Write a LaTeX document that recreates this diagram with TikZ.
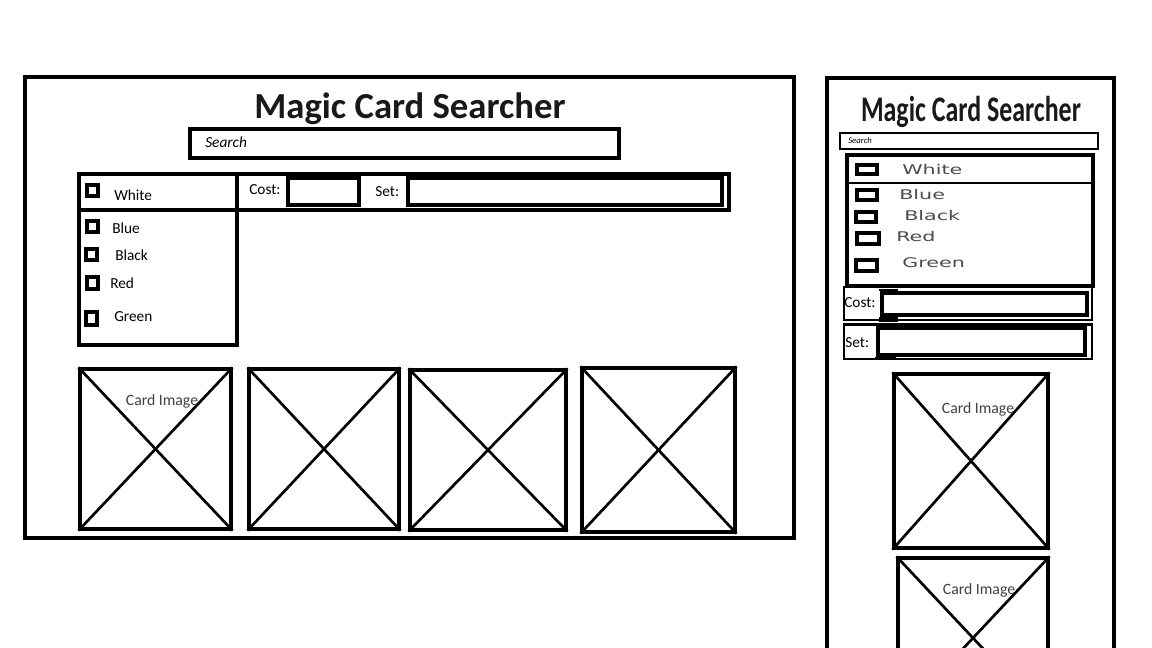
\documentclass[tikz,border=0pt]{standalone}
\usepackage{fontspec}
\setmainfont{Carlito}
\newfontfamily\widefont{DejaVu Sans}
\usetikzlibrary{fit}
\begin{document}
\begin{tikzpicture}[x=0.75pt,y=-0.75pt,
  frame/.style={draw,line width=3pt,inner sep=0pt},
  thickbox/.style={draw,line width=2.3pt,inner sep=0pt},
  rowbox/.style={draw,line width=2.2pt,inner sep=0pt},
  thinbox/.style={draw,line width=1.6pt,inner sep=0pt},
  chk/.style={draw,line width=2.6pt,inner sep=0pt},
  card/.style={draw,line width=2.3pt,inner sep=0pt},
  diag/.style={line width=2pt},
  lbl/.style={anchor=mid west,inner sep=0pt,yshift=-1.5pt,font=\fontsize{11.5pt}{13pt}\selectfont},
  wlbl/.style={anchor=mid west,inner sep=0pt,text=black!70,font=\fontsize{10pt}{12pt}\widefont},
  imgtxt/.style={inner sep=0pt,yshift=-1.5pt,text=black!75,font=\fontsize{11.8pt}{13pt}\selectfont},
]
\path[use as bounding box,clip] (0,0) rectangle (1152,648);
\fill[white] (0,0) rectangle (1152,648);

% ---------- desktop layout ----------
\node[frame,fit={(25,77)(794,538)}] (deskframe) {};
\node[inner sep=0pt,font=\fontsize{27.5pt}{30pt}\selectfont\bfseries,text=black!90] (desktitle) at (410,109) {Magic Card Searcher};
\node[thickbox,fit={(190,129)(619,158)}] (desksearch) {};
\node[anchor=mid west,inner sep=0pt,yshift=-1.5pt,font=\fontsize{11.5pt}{13pt}\selectfont\itshape] (desksearchtxt) at (205,142) {Search};

\node[thickbox,fit={(79,174)(729,210)}] (desktoprow) {};
\node[thickbox,fit={(79,174)(237,345)}] (deskcolors) {};
\node[lbl] (deskcostlbl) at (249,189) {Cost:};
\node[thickbox,fit={(288,178)(359,205)}] (deskcost) {};
\node[lbl] (desksetlbl) at (375,191) {Set:};
\node[thickbox,fit={(408,178)(722,205)}] (deskset) {};

\node[chk,fit={(87,185)(98,196)}] (dcw) {};
\node[chk,fit={(87,221)(98,232)}] (dcu) {};
\node[chk,fit={(86,249)(97,260)}] (dcb) {};
\node[chk,fit={(87,277)(98,289)}] (dcr) {};
\node[chk,fit={(86,312)(97,325)}] (dcg) {};
\node[lbl] (dlw) at (114,195) {White};
\node[lbl] (dlu) at (112,228) {Blue};
\node[lbl] (dlb) at (115,255) {Black};
\node[lbl] (dlr) at (110,283) {Red};
\node[lbl] (dlg) at (114,316) {Green};

\foreach \n/\a/\b/\c/\d in {dc1/80/369/231/529, dc2/249/369/399/529, dc3/410/370/566/530, dc4/582/368/735/532}{
  \node[card,fit={(\a,\b)(\c,\d)}] (\n) {};
  \draw[diag] (\n.north west) -- (\n.south east);
  \draw[diag] (\n.north east) -- (\n.south west);
}
\node[imgtxt] (dc1txt) at (162,399) {Card Image};

% ---------- mobile layout ----------
\node[frame,fit={(827,78)(1114,720)}] (mobframe) {};
\node[inner sep=0pt,text=black!90] (mobtitle) at (971,112) {\scalebox{0.72}[1]{\fontsize{27pt}{30pt}\selectfont\bfseries Magic Card Searcher}};
\node[thinbox,fit={(840,133)(1098,149)}] (mobsearch) {};
\node[anchor=mid west,inner sep=0pt,font=\fontsize{6.5pt}{7pt}\selectfont\itshape] (mobsearchtxt) at (848,140) {Search};

\node[thickbox,fit={(847,155)(1093,286)}] (mobcolors) {};
\draw[line width=1.6pt] (mobcolors.west |- 0,183) -- (mobcolors.east |- 0,183);
\node[chk,fit={(857,165)(877,174)}] (mcw) {};
\node[chk,fit={(857,190)(877,200)}] (mcu) {};
\node[chk,fit={(856,212)(876,222)}] (mcb) {};
\node[chk,fit={(857,233)(879,244)}] (mcr) {};
\node[chk,fit={(856,260)(877,271)}] (mcg) {};
\node[wlbl] (mlw) at (902,171) {\scalebox{1.55}[1]{White}};
\node[wlbl] (mlu) at (899,196) {\scalebox{1.55}[1]{Blue}};
\node[wlbl] (mlb) at (904,217) {\scalebox{1.55}[1]{Black}};
\node[wlbl] (mlr) at (896,238) {\scalebox{1.55}[1]{Red}};
\node[wlbl] (mlg) at (902,264) {\scalebox{1.55}[1]{Green}};

\node[rowbox,fit={(844,287)(1092,320)}] (mobcostrow) {};
\node[thickbox,fit={(882,293)(1087,315)}] (mobcost) {};
\node[lbl] (mobcostlbl) at (844,302) {Cost:};
\node[rowbox,fit={(844,324.5)(1092,359)}] (mobsetrow) {};
\node[thickbox,fit={(878,328)(1085,355)}] (mobset) {};
\node[lbl] (mobsetlbl) at (845,342) {Set:};
\fill (mobcost.south west) ++(-1,0) rectangle ++(19,5);
\fill (mobcost.north west) ++(-1,0) rectangle ++(19,-2);
\fill (mobset.south west) ++(-1,0) rectangle ++(21,3);
\fill (mobset.north west) ++(-1,0) rectangle ++(21,-2);

\foreach \n/\a/\b/\c/\d in {mc1/894/374/1048/548, mc2/898/558/1048/718}{
  \node[card,fit={(\a,\b)(\c,\d)}] (\n) {};
  \draw[diag] (\n.north west) -- (\n.south east);
  \draw[diag] (\n.north east) -- (\n.south west);
}
\node[imgtxt] (mc1txt) at (978,407) {Card Image};
\node[imgtxt] (mc2txt) at (979,588) {Card Image};
\end{tikzpicture}
\end{document}
